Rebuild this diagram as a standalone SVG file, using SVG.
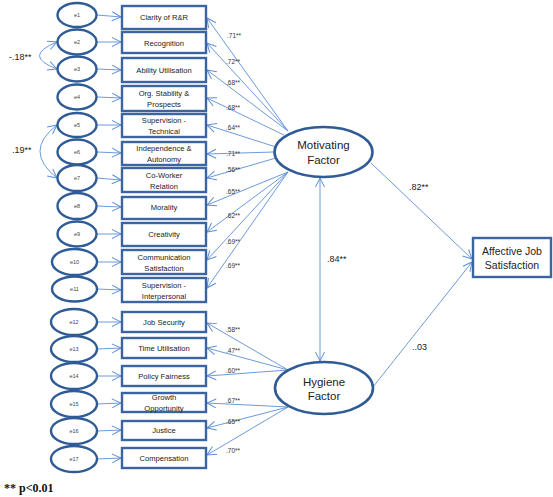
<svg xmlns="http://www.w3.org/2000/svg" width="553" height="497" viewBox="0 0 553 497">
<style>
.bg{fill:#ffffff}
.box{fill:#ffffff;stroke:#3B64A0;stroke-width:2.4}
.err{fill:#ffffff;stroke:#2F5B96;stroke-width:2.4}
.lat{fill:#ffffff;stroke:#2F5B96;stroke-width:2.6}
.con{fill:none;stroke:#5B8FD6;stroke-width:0.9}
.t{font-family:"Liberation Sans",Arial,sans-serif;font-size:7.6px;fill:#222;text-anchor:middle}
.e{font-family:"Liberation Sans",Arial,sans-serif;font-size:5.5px;fill:#444;text-anchor:middle}
.l{font-family:"Liberation Sans",Arial,sans-serif;font-size:6.5px;fill:#333}
.big{font-family:"Liberation Sans",Arial,sans-serif;font-size:11.5px;fill:#222;text-anchor:middle}
.aj{font-family:"Liberation Sans",Arial,sans-serif;font-size:10.5px;fill:#222;text-anchor:middle}
.cv{font-family:"Liberation Sans",Arial,sans-serif;font-size:9px;fill:#222}
.p{font-family:"Liberation Serif","Times New Roman",serif;font-size:12px;font-weight:bold;fill:#111}
</style>
<defs>
<marker id="ah" markerUnits="userSpaceOnUse" markerWidth="12" markerHeight="12" viewBox="0 0 12 12" refX="10" refY="6" orient="auto-start-reverse">
<path d="M1,1.5 L10,6 L1,10.5" fill="none" stroke="#5B8FD6" stroke-width="1"/>
</marker>
</defs>
<rect class="bg" x="0" y="0" width="553" height="497"/>

<g id="connectors">
<!-- error to indicator -->
<line class="con" x1="97" y1="15" x2="121" y2="17" marker-end="url(#ah)"/>
<line class="con" x1="97" y1="42" x2="121" y2="42" marker-end="url(#ah)"/>
<line class="con" x1="97" y1="69" x2="121" y2="70" marker-end="url(#ah)"/>
<line class="con" x1="97" y1="97" x2="121" y2="98" marker-end="url(#ah)"/>
<line class="con" x1="97" y1="125" x2="121" y2="125" marker-end="url(#ah)"/>
<line class="con" x1="97" y1="152" x2="121" y2="153" marker-end="url(#ah)"/>
<line class="con" x1="97" y1="178" x2="121" y2="180" marker-end="url(#ah)"/>
<line class="con" x1="97" y1="206" x2="121" y2="207" marker-end="url(#ah)"/>
<line class="con" x1="97" y1="234" x2="121" y2="234" marker-end="url(#ah)"/>
<line class="con" x1="97" y1="262" x2="121" y2="262" marker-end="url(#ah)"/>
<line class="con" x1="97" y1="289" x2="121" y2="290" marker-end="url(#ah)"/>
<line class="con" x1="97" y1="322" x2="121" y2="322" marker-end="url(#ah)"/>
<line class="con" x1="97" y1="349" x2="121" y2="348" marker-end="url(#ah)"/>
<line class="con" x1="97" y1="376" x2="121" y2="376" marker-end="url(#ah)"/>
<line class="con" x1="97" y1="404" x2="121" y2="403" marker-end="url(#ah)"/>
<line class="con" x1="97" y1="431" x2="121" y2="430" marker-end="url(#ah)"/>
<line class="con" x1="97" y1="459" x2="121" y2="458" marker-end="url(#ah)"/>
<!-- motivating loadings -->
<line class="con" x1="288" y1="131" x2="207" y2="18" marker-end="url(#ah)"/>
<line class="con" x1="288" y1="131" x2="207" y2="43" marker-end="url(#ah)"/>
<line class="con" x1="288" y1="131" x2="207" y2="70" marker-end="url(#ah)"/>
<line class="con" x1="284" y1="135" x2="207" y2="98" marker-end="url(#ah)"/>
<line class="con" x1="276" y1="147" x2="207" y2="125" marker-end="url(#ah)"/>
<line class="con" x1="274" y1="152" x2="207" y2="154" marker-end="url(#ah)"/>
<line class="con" x1="276" y1="158" x2="207" y2="178" marker-end="url(#ah)"/>
<line class="con" x1="288" y1="172" x2="207" y2="205" marker-end="url(#ah)"/>
<line class="con" x1="288" y1="172" x2="207" y2="232" marker-end="url(#ah)"/>
<line class="con" x1="288" y1="172" x2="207" y2="260" marker-end="url(#ah)"/>
<line class="con" x1="288" y1="172" x2="207" y2="288" marker-end="url(#ah)"/>
<!-- hygiene loadings -->
<line class="con" x1="288" y1="370" x2="207" y2="323" marker-end="url(#ah)"/>
<line class="con" x1="288" y1="370" x2="207" y2="348" marker-end="url(#ah)"/>
<line class="con" x1="288" y1="370" x2="207" y2="376" marker-end="url(#ah)"/>
<line class="con" x1="288" y1="407" x2="207" y2="403" marker-end="url(#ah)"/>
<line class="con" x1="288" y1="407" x2="207" y2="428" marker-end="url(#ah)"/>
<line class="con" x1="288" y1="407" x2="207" y2="455" marker-end="url(#ah)"/>
<!-- structural -->
<line class="con" x1="320" y1="178" x2="320" y2="361" marker-start="url(#ah)" marker-end="url(#ah)"/>
<line class="con" x1="371" y1="163" x2="472" y2="259" marker-end="url(#ah)"/>
<line class="con" x1="373" y1="387" x2="472" y2="262" marker-end="url(#ah)"/>
<!-- covariances -->
<path class="con" d="M57,42 Q22,56 57,69" marker-start="url(#ah)" marker-end="url(#ah)"/>
<path class="con" d="M57,125 Q23,151 57,178" marker-start="url(#ah)" marker-end="url(#ah)"/>
</g>

<g id="labels">
<text class="l" x="227" y="38">.71**</text>
<text class="l" x="226" y="64">.72**</text>
<text class="l" x="226" y="85">.68**</text>
<text class="l" x="226" y="110">.68**</text>
<text class="l" x="226" y="130">.64**</text>
<text class="l" x="226" y="156">.71**</text>
<text class="l" x="226" y="172">.56**</text>
<text class="l" x="226" y="194">.65**</text>
<text class="l" x="226" y="218">.62**</text>
<text class="l" x="226" y="244">.69**</text>
<text class="l" x="226" y="268">.69**</text>
<text class="l" x="226" y="332">.58**</text>
<text class="l" x="226" y="353">.47**</text>
<text class="l" x="226" y="373">.60**</text>
<text class="l" x="226" y="403">.67**</text>
<text class="l" x="226" y="424">.65**</text>
<text class="l" x="226" y="453">.70**</text>
<text class="cv" x="327" y="262">.84**</text>
<text class="cv" x="409" y="190">.82**</text>
<text class="cv" x="412" y="350">..03</text>
<text class="cv" x="9" y="60">-.18**</text>
<text class="cv" x="12" y="153">.19**</text>
<text class="p" x="4" y="492">** p&lt;0.01</text>
</g>

<g id="e1"><ellipse class="err" cx="77" cy="15" rx="19.5" ry="12"/><text class="e" x="77" y="17">e1</text></g>
<g id="e2"><ellipse class="err" cx="77" cy="42" rx="19.5" ry="12.5"/><text class="e" x="77" y="44">e2</text></g>
<g id="e3"><ellipse class="err" cx="77" cy="69" rx="19.5" ry="12.5"/><text class="e" x="77" y="71">e3</text></g>
<g id="e4"><ellipse class="err" cx="77" cy="97" rx="19.5" ry="12.5"/><text class="e" x="77" y="99">e4</text></g>
<g id="e5"><ellipse class="err" cx="77" cy="125" rx="19.5" ry="12"/><text class="e" x="77" y="127">e5</text></g>
<g id="e6"><ellipse class="err" cx="77" cy="152" rx="19.5" ry="12.5"/><text class="e" x="77" y="154">e6</text></g>
<g id="e7"><ellipse class="err" cx="77" cy="178" rx="19.5" ry="13"/><text class="e" x="77" y="180">e7</text></g>
<g id="e8"><ellipse class="err" cx="77" cy="206" rx="19.5" ry="13"/><text class="e" x="77" y="208">e8</text></g>
<g id="e9"><ellipse class="err" cx="77" cy="234" rx="19.5" ry="12.5"/><text class="e" x="77" y="236">e9</text></g>
<g id="e10"><ellipse class="err" cx="74.5" cy="262" rx="22.5" ry="13"/><text class="e" x="74.5" y="264">e10</text></g>
<g id="e11"><ellipse class="err" cx="74.5" cy="289" rx="22.5" ry="12.5"/><text class="e" x="74.5" y="291">e11</text></g>
<g id="e12"><ellipse class="err" cx="74" cy="322" rx="23" ry="13"/><text class="e" x="74" y="324">e12</text></g>
<g id="e13"><ellipse class="err" cx="74" cy="349" rx="23" ry="13"/><text class="e" x="74" y="351">e13</text></g>
<g id="e14"><ellipse class="err" cx="74" cy="376" rx="23" ry="13"/><text class="e" x="74" y="378">e14</text></g>
<g id="e15"><ellipse class="err" cx="74" cy="404" rx="23" ry="13"/><text class="e" x="74" y="406">e15</text></g>
<g id="e16"><ellipse class="err" cx="74" cy="431" rx="23" ry="13"/><text class="e" x="74" y="433">e16</text></g>
<g id="e17"><ellipse class="err" cx="74" cy="459" rx="23" ry="13"/><text class="e" x="74" y="461">e17</text></g>

<g id="clarity"><rect class="box" x="122" y="6" width="84" height="23"/><text class="t" x="164" y="20">Clarity of R&amp;R</text></g>
<g id="recognition"><rect class="box" x="122" y="32" width="84" height="21"/><text class="t" x="164" y="46">Recognition</text></g>
<g id="ability"><rect class="box" x="122" y="58" width="84" height="24"/><text class="t" x="164" y="73">Ability Utilisation</text></g>
<g id="orgstability"><rect class="box" x="122" y="86" width="84" height="25"/><text class="t" x="164" y="96">Org. Stability &amp;</text><text class="t" x="164" y="107">Prospects</text></g>
<g id="suptech"><rect class="box" x="122" y="114" width="84" height="23"/><text class="t" x="164" y="123">Supervision -</text><text class="t" x="164" y="134">Technical</text></g>
<g id="independence"><rect class="box" x="122" y="142" width="84" height="23"/><text class="t" x="164" y="151">Independence &amp;</text><text class="t" x="164" y="162">Autonomy</text></g>
<g id="coworker"><rect class="box" x="122" y="168" width="84" height="24"/><text class="t" x="164" y="178">Co-Worker</text><text class="t" x="164" y="189">Relation</text></g>
<g id="morality"><rect class="box" x="122" y="197" width="84" height="22"/><text class="t" x="164" y="210">Morality</text></g>
<g id="creativity"><rect class="box" x="122" y="223" width="84" height="23"/><text class="t" x="164" y="237">Creativity</text></g>
<g id="communication"><rect class="box" x="122" y="250" width="84" height="24"/><text class="t" x="164" y="260">Communication</text><text class="t" x="164" y="271">Satisfaction</text></g>
<g id="supinter"><rect class="box" x="122" y="278" width="84" height="24"/><text class="t" x="164" y="288">Supervision -</text><text class="t" x="164" y="299">Interpersonal</text></g>
<g id="jobsecurity"><rect class="box" x="122" y="312" width="84" height="20"/><text class="t" x="164" y="325">Job Security</text></g>
<g id="timeutil"><rect class="box" x="122" y="338" width="84" height="20"/><text class="t" x="164" y="351">Time Utilisation</text></g>
<g id="policy"><rect class="box" x="122" y="366" width="84" height="20"/><text class="t" x="164" y="379">Policy Fairness</text></g>
<g id="growth"><rect class="box" x="122" y="393" width="84" height="19"/><text class="t" x="164" y="400">Growth</text><text class="t" x="164" y="411">Opportunity</text></g>
<g id="justice"><rect class="box" x="122" y="421" width="84" height="19"/><text class="t" x="164" y="433">Justice</text></g>
<g id="compensation"><rect class="box" x="122" y="448" width="84" height="20"/><text class="t" x="164" y="461">Compensation</text></g>

<g id="motivating"><ellipse class="lat" cx="323.5" cy="152" rx="49" ry="25"/><text class="big" x="323.5" y="149">Motivating</text><text class="big" x="323.5" y="164">Factor</text></g>
<g id="hygiene"><ellipse class="lat" cx="324" cy="388" rx="49" ry="26"/><text class="big" x="324" y="386">Hygiene</text><text class="big" x="324" y="400">Factor</text></g>
<g id="affective"><rect class="box" x="473" y="238" width="78" height="39"/><text class="aj" x="512" y="255">Affective Job</text><text class="aj" x="512" y="269">Satisfaction</text></g>
</svg>
